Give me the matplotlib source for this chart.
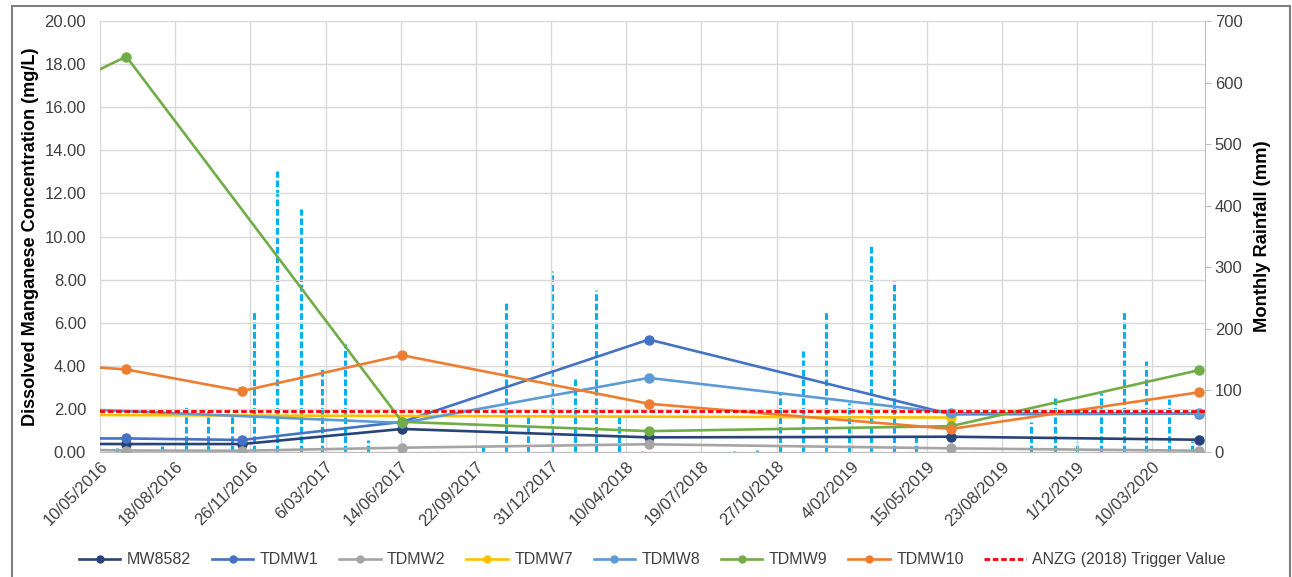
import numpy as np
import pandas as pd
import matplotlib
matplotlib.use('Agg')
import matplotlib.pyplot as plt
from matplotlib.lines import Line2D
from matplotlib.patches import Rectangle

plt.rcParams['font.family'] = ['Liberation Sans', 'DejaVu Sans']

# sampling dates (first one sits before the axis start, so only its line segment shows)
sample_dates = pd.to_datetime(['2016-03-15', '2016-06-14', '2016-11-15', '2017-06-16',
                               '2018-05-10', '2019-06-16', '2020-05-11'])

mw8582 = [0.38, 0.37, 0.37, 1.07, 0.68, 0.71, 0.57]
tdmw1 = [0.63, 0.63, 0.56, 1.40, 5.22, 1.75, 1.78]
tdmw2 = [0.12, 0.07, 0.06, 0.20, 0.36, 0.17, 0.06]
tdmw7 = [1.72, None, None, None, None, 1.60, None]
tdmw8 = [2.03, None, None, 1.35, 3.44, 1.80, 1.80]
tdmw9 = [16.82, 18.35, None, 1.40, 0.97, 1.20, 3.80]
tdmw10 = [4.06, 3.83, 2.83, 4.49, 2.24, 1.07, 2.77]
trigger = 1.9

series_names = ['MW8582', 'TDMW1', 'TDMW2', 'TDMW7', 'TDMW8', 'TDMW9', 'TDMW10']
series_vals = [mw8582, tdmw1, tdmw2, tdmw7, tdmw8, tdmw9, tdmw10]
series_cols = ['#264478', '#4472C4', '#A5A5A5', '#FFC000', '#5B9BD5', '#70AD47', '#ED7D31']

rain_months = pd.date_range('2016-06-01', '2020-05-01', freq='MS')
rain_mm = [6, 0, 10, 73, 67, 58, 228, 456, 395, 137, 176, 19,
           0, 0, 0, 0, 11, 246, 58, 294, 118, 263, 58, 1,
           0, 0, 0, 1, 4, 97, 164, 228, 80, 335, 277, 31,
           0, 0, 0, 0, 49, 88, 16, 96, 228, 148, 86, 18]

x_start = pd.Timestamp('2016-05-10')
x_end = x_start + pd.Timedelta(days=1470)
tick_dates = [x_start + pd.Timedelta(days=100 * k) for k in range(15)]

fig = plt.figure(figsize=(12.92, 5.77), dpi=100)
ax = fig.add_axes([0.0774, 0.2166, 0.9327 - 0.0774, 0.9636 - 0.2166])
ax2 = ax.twinx()

grid_c = '#D9D9D9'
ax2.vlines(rain_months, 0, rain_mm, colors='#00B0F0', linewidth=2.2,
           linestyles=[(0, (2.2, 0.9))], zorder=2)

for name, vals, col in zip(series_names, series_vals, series_cols):
    v = np.array([np.nan if a is None else a for a in vals], dtype=float)
    m = ~np.isnan(v)
    ax.plot(sample_dates[m], v[m], color=col, lw=1.9, marker='o', ms=6.5,
            label=name, zorder=3)
ax.plot([x_start - pd.Timedelta(days=200), x_end + pd.Timedelta(days=200)], [trigger, trigger],
        color='#FF0000', lw=2, ls=(0, (2, 1)), zorder=4)

ax.set_zorder(ax2.get_zorder() + 1)
ax.patch.set_visible(False)

ax.set_xlim(x_start, x_end)
ax.set_ylim(0, 20)
ax2.set_ylim(0, 700)
ax.set_yticks(np.arange(0, 21, 2))
ax.set_yticklabels([f'{v:.2f}' for v in np.arange(0, 21, 2)])
ax2.set_yticks(np.arange(0, 701, 100))
ax.set_xticks(tick_dates)
ax.set_xticklabels([f'{d.day}/{d.month:02d}/{d.year}' for d in tick_dates],
                   rotation=45, ha='right', rotation_mode='anchor')

ax.grid(True, color=grid_c, lw=1)
ax.set_axisbelow(True)
for a in (ax, ax2):
    for s in a.spines.values():
        s.set_visible(False)
ax2.spines['right'].set_visible(True)
ax2.spines['right'].set_color('#BFBFBF')
ax.spines['bottom'].set_visible(True)
ax.spines['bottom'].set_color('#BFBFBF')

ax.tick_params(axis='y', length=0, labelsize=12, colors='#404040', pad=10)
ax.tick_params(axis='x', length=0, labelsize=12, colors='#404040', pad=5)
ax2.tick_params(axis='y', length=4, color='#BFBFBF', labelsize=12, labelcolor='#404040', pad=3)

ax.set_ylabel('Dissolved Manganese Concentration (mg/L)', fontsize=13.1, fontweight='bold', labelpad=4)
ax2.set_ylabel('Monthly Rainfall (mm)', fontsize=13.2, fontweight='bold', labelpad=8)

handles = [Line2D([], [], color=c, lw=1.9, marker='o', ms=5) for c in series_cols]
handles.append(Line2D([], [], color='#FF0000', lw=2, ls=(0, (2, 1))))
labels = series_names + ['ANZG (2018) Trigger Value']
fig.legend(handles, labels, loc='center', bbox_to_anchor=(0.505, 0.03), ncol=8,
           frameon=False, fontsize=11.5, handlelength=2.6, columnspacing=1.3,
           handletextpad=0.4, labelcolor='#404040')

fig.patches.append(Rectangle((0.0095, -0.01), 0.989, 1.0, transform=fig.transFigure,
                             fill=False, edgecolor='#7F7F7F', lw=1.5))

fig.savefig('out.png', dpi=100)
